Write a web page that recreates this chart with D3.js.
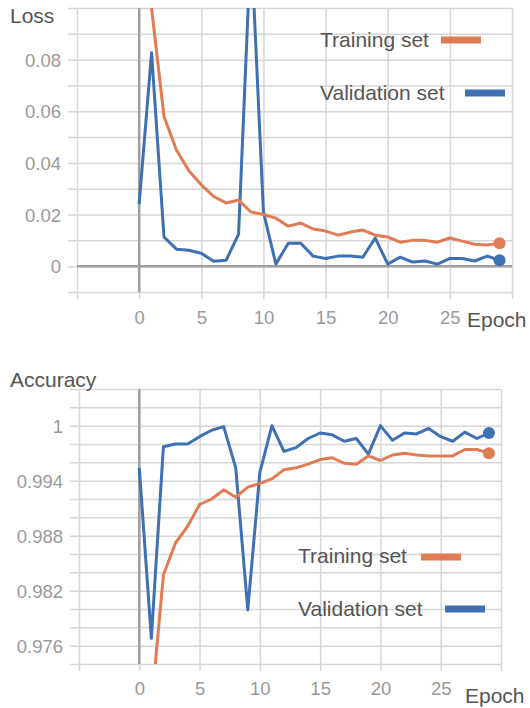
<!DOCTYPE html>
<html>
<head>
<meta charset="utf-8">
<script src="https://cdn.jsdelivr.net/npm/d3@7"></script>
<style>
  body { margin: 0; background: #fff; }
  svg { font-family: "Liberation Sans", Arial, sans-serif; }
  .grid line { stroke: #d6d6d6; stroke-width: 1.5; }
  .grid path { display: none; }
  .grid text { fill: #9a9a9a; font-size: 18.5px; }
</style>
</head>
<body>
<div id="chart"></div>
<script>
// epochs and series (training curves start at epoch 1)
var epochs = [0, 1, 2, 3, 4, 5, 6, 7, 8, 9, 10, 11, 12, 13, 14, 15, 16, 17, 18, 19, 20, 21, 22, 23, 24, 25, 26, 27, 28, 29];

var lossTrain = [null, 0.1, 0.058, 0.045, 0.037, 0.0315, 0.027, 0.0245, 0.0256, 0.021, 0.020, 0.0186, 0.0155, 0.0167, 0.0144,
                 0.0136, 0.012, 0.0132, 0.014, 0.012, 0.0113, 0.0093, 0.010, 0.010, 0.0093, 0.0109, 0.0097, 0.0085, 0.0082, 0.0089];
var lossVal = [0.024, 0.0827, 0.0113, 0.0066, 0.0062, 0.005, 0.0019, 0.0023, 0.0124, 0.126, 0.021, 0.0008, 0.0089, 0.0089, 0.0039,
               0.003, 0.0039, 0.0039, 0.0035, 0.0109, 0.0008, 0.0035, 0.0016, 0.002, 0.0008, 0.003, 0.003, 0.002, 0.0039, 0.0023];

var accTrain = [null, 0.9693, 0.9837, 0.9872, 0.989, 0.9914, 0.992, 0.993, 0.9922, 0.9933, 0.9937, 0.9942, 0.9952, 0.9954, 0.9958,
                0.9963, 0.9965, 0.9959, 0.9958, 0.9967, 0.9962, 0.9968, 0.997, 0.9968, 0.9967, 0.9967, 0.9967, 0.9974, 0.9974, 0.997];
var accVal = [0.9954, 0.9768, 0.9977, 0.998, 0.998, 0.9988, 0.9995, 0.9999, 0.9954, 0.9799, 0.9949, 1.0, 0.9972, 0.9976, 0.9986,
              0.9992, 0.999, 0.9983, 0.9986, 0.9969, 1.0, 0.9984, 0.9992, 0.9991, 0.9997, 0.9988, 0.9983, 0.9993, 0.9986, 0.9992];

// ticks
var xGridTicks = [-5, 0, 5, 10, 15, 20, 25, 30];
var xLabelTicks = [0, 5, 10, 15, 20, 25];
var lossGridTicks = [-0.01, 0, 0.01, 0.02, 0.03, 0.04, 0.05, 0.06, 0.07, 0.08, 0.09, 0.1];
var lossLabelTicks = [0, 0.02, 0.04, 0.06, 0.08];
var accGridTicks = [0.974, 0.976, 0.978, 0.98, 0.982, 0.984, 0.986, 0.988, 0.99, 0.992, 0.994, 0.996, 0.998, 1, 1.002, 1.004];
var accLabelTicks = [0.976, 0.982, 0.988, 0.994, 1];

var seriesNames = ["Training set", "Validation set"];
var colors = ["#e07b53", "#3e70b3"];

var svg = d3.select("div#chart")
            .append("svg")
            .attr("width", 530)
            .attr("height", 708);

function drawChart(cfg) {
    var x = d3.scaleLinear().domain([-5, 30]).range([cfg.left, cfg.right]),
        y = d3.scaleLinear().domain(cfg.yDomain).range([cfg.bottom, cfg.top]);

    var g = svg.append("g").attr("id", cfg.id);

    // horizontal grid + y labels
    var yAxis = d3.axisLeft(y)
                  .tickValues(cfg.yGrid)
                  .tickSize(-(cfg.right - cfg.left + 9))
                  .tickPadding(7)
                  .tickFormat(function(d) {
                      var hit = cfg.yLabels.some(function(v) { return Math.abs(v - d) < 1e-9; });
                      return hit ? cfg.fmt(d) : "";
                  });
    g.append("g")
     .attr("class", "grid")
     .attr("transform", "translate(" + (cfg.left - 9) + ",0)")
     .call(yAxis)
     .selectAll("text").attr("dy", "0.36em");

    // vertical grid + x labels
    var xAxis = d3.axisBottom(x)
                  .tickValues(xGridTicks)
                  .tickSize(-(cfg.bottom - cfg.top + 7))
                  .tickPadding(cfg.xPad)
                  .tickFormat(function(d) { return xLabelTicks.indexOf(d) >= 0 ? d : ""; });
    g.append("g")
     .attr("class", "grid")
     .attr("transform", "translate(0," + (cfg.bottom + 7) + ")")
     .call(xAxis);

    // zero lines
    g.append("line")
     .attr("x1", x(0)).attr("x2", x(0))
     .attr("y1", cfg.top).attr("y2", cfg.bottom)
     .attr("stroke", "#a0a0a0").attr("stroke-width", 2.5);
    if (cfg.yDomain[0] < 0) {
        g.append("line")
         .attr("x1", cfg.left).attr("x2", cfg.right)
         .attr("y1", y(0)).attr("y2", y(0))
         .attr("stroke", "#a0a0a0").attr("stroke-width", 2.5);
    }

    // clip
    g.append("clipPath").attr("id", cfg.id + "-clip")
     .append("rect")
     .attr("x", cfg.left).attr("y", cfg.top)
     .attr("width", cfg.right - cfg.left).attr("height", cfg.bottom - cfg.top);

    var series = [cfg.train, cfg.val];
    for (var i = series.length - 1; i >= 0; i--) {
        var vals = series[i];
        var line = d3.line()
                     .defined(function(d) { return d != null; })
                     .x(function(d, j) { return x(epochs[j]); })
                     .y(function(d) { return y(d); });
        g.append("path")
         .datum(vals)
         .attr("clip-path", "url(#" + cfg.id + "-clip)")
         .attr("fill", "none")
         .attr("stroke", colors[i])
         .attr("stroke-width", 3)
         .attr("stroke-linejoin", "round")
         .attr("d", line);
        var last = vals.length - 1;
        g.append("circle")
         .attr("cx", x(epochs[last]))
         .attr("cy", y(vals[last]))
         .attr("r", 6)
         .attr("fill", colors[i]);
    }

    // titles
    g.append("text")
     .attr("x", 10).attr("y", cfg.titleY)
     .attr("font-size", "21px").attr("fill", "#555")
     .text(cfg.title);
    g.append("text")
     .attr("x", cfg.epochX).attr("y", cfg.epochY)
     .attr("font-size", "21px").attr("fill", "#555")
     .text("Epoch");

    // legend
    for (var k = 0; k < seriesNames.length; k++) {
        var lg = cfg.legend[k];
        g.append("text")
         .attr("x", lg.tx).attr("y", lg.ty)
         .attr("font-size", "21px").attr("fill", "#555")
         .text(seriesNames[k]);
        g.append("rect")
         .attr("x", lg.sx).attr("y", lg.sy - 3.5)
         .attr("width", 40).attr("height", 7)
         .attr("fill", colors[k]);
    }
}

drawChart({
    id: "loss", left: 77, right: 512, top: 8, bottom: 292,
    yDomain: [-0.01, 0.1], yGrid: lossGridTicks, yLabels: lossLabelTicks,
    fmt: function(d) { return d === 0 ? "0" : d3.format(".2f")(d); },
    xPad: 12, train: lossTrain, val: lossVal,
    title: "Loss", titleY: 23, epochX: 467, epochY: 327,
    legend: [{tx: 320, ty: 47, sx: 441, sy: 40}, {tx: 320, ty: 100, sx: 465, sy: 93}]
});

drawChart({
    id: "acc", left: 79, right: 501, top: 389, bottom: 664,
    yDomain: [0.974, 1.004], yGrid: accGridTicks, yLabels: accLabelTicks,
    fmt: function(d) { return d === 1 ? "1" : d3.format(".3f")(d); },
    xPad: 11, train: accTrain, val: accVal,
    title: "Accuracy", titleY: 387, epochX: 465, epochY: 703,
    legend: [{tx: 298, ty: 563, sx: 421, sy: 557}, {tx: 298, ty: 616, sx: 445, sy: 609}]
});
</script>
</body>
</html>
